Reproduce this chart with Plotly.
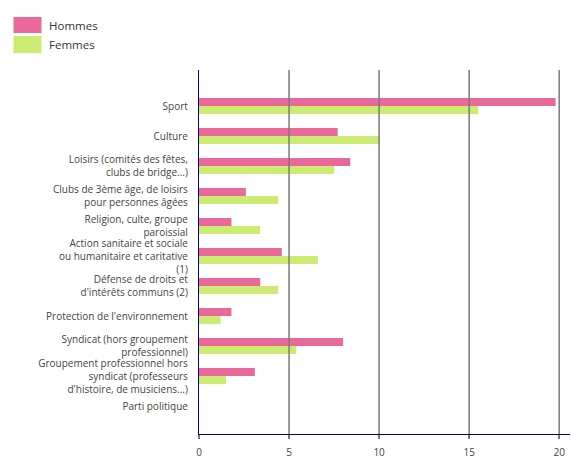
import plotly.graph_objects as go

categories = [
    "Sport",
    "Culture",
    "Loisirs (comités des fêtes,<br>clubs de bridge...)",
    "Clubs de 3ème âge, de loisirs<br>pour personnes âgées",
    "Religion, culte, groupe<br>paroissial",
    "Action sanitaire et sociale<br>ou humanitaire et caritative<br>(1)",
    "Défense de droits et<br>d'intérêts communs (2)",
    "Protection de l'environnement",
    "Syndicat (hors groupement<br>professionnel)",
    "Groupement professionnel hors<br>syndicat (professeurs<br>d'histoire, de musiciens...)",
    "Parti politique",
]
hommes = [19.8, 7.7, 8.4, 2.6, 1.8, 4.6, 3.4, 1.8, 8.0, 3.1, 0]
femmes = [15.5, 10.0, 7.5, 4.4, 3.4, 6.6, 4.4, 1.2, 5.4, 1.5, 0]
series_names = ["Hommes", "Femmes"]
x_ticks = [0, 5, 10, 15, 20]

pink = "#E8699A"
green = "#CCEB73"
font = "Open Sans"
gridcol = "#7a7a7a"

fig = go.Figure()
fig.add_trace(go.Bar(y=categories, x=hommes, name=series_names[0], orientation="h",
                     marker=dict(color=pink, line=dict(width=0)), showlegend=False))
fig.add_trace(go.Bar(y=categories, x=femmes, name=series_names[1], orientation="h",
                     marker=dict(color=green, line=dict(width=0)), showlegend=False))

W, H = 571, 466
# target plot-area positions in window pixels
pl, pr, pt, pb = 198.5, 570, 70, 434
ml, mr, mt, mb = pl, W - pr, pt, H - pb
pw = pr - pl
ph = pb - pt

# vertical grid lines drawn above the bars (as in the reference)
for v in x_ticks[1:]:
    fig.add_shape(type="line", xref="x", yref="paper", x0=v, x1=v, y0=0, y1=1,
                  layer="above", line=dict(color=gridcol, width=1.5))

# legend drawn manually (large swatches), window-pixel coordinates
legend_items = [(series_names[0], pink, 17, 33), (series_names[1], green, 36, 53)]
for name, col, top, bot in legend_items:
    fig.add_shape(type="rect", xref="paper", yref="paper",
                  xsizemode="pixel", ysizemode="pixel", xanchor=0, yanchor=1,
                  x0=13 - pl, x1=41 - pl, y0=pt - bot, y1=pt - top,
                  fillcolor=col, line=dict(width=0))
    fig.add_annotation(xref="paper", yref="paper", x=(46 - pl) / pw,
                       y=1 + (pt - (top + bot) / 2) / ph, text=name, showarrow=False,
                       xanchor="left", yanchor="middle",
                       font=dict(family=font, size=11.5, color="#333333"))

fig.update_layout(
    width=W, height=H,
    margin=dict(l=ml, r=mr, t=mt, b=mb, pad=0, autoexpand=False),
    paper_bgcolor="white", plot_bgcolor="white",
    barmode="group", bargap=0.467, bargroupgap=0,
    font=dict(family=font, size=10, color="#444444"),
)
fig.update_xaxes(range=[0, 20.6], tickvals=x_ticks, showgrid=False, zeroline=False,
                 showline=True, linecolor="#000080", linewidth=1.2,
                 ticks="outside", ticklen=4, tickcolor=gridcol, tickwidth=1.5,
                 ticklabelstandoff=5, automargin=False,
                 tickfont=dict(family=font, size=10, color="#444444"))
fig.update_yaxes(categoryorder="array", categoryarray=categories,
                 range=[10.93, -1.2], showgrid=False, zeroline=False,
                 showline=True, linecolor="#000080", linewidth=1.2,
                 ticks="", ticklabelstandoff=8, automargin=False,
                 tickfont=dict(family=font, size=10, color="#444444"))

fig.write_html("out.html",
               config={"displayModeBar": False},
               post_script="document.body.style.margin='0';document.body.style.overflow='hidden';")
